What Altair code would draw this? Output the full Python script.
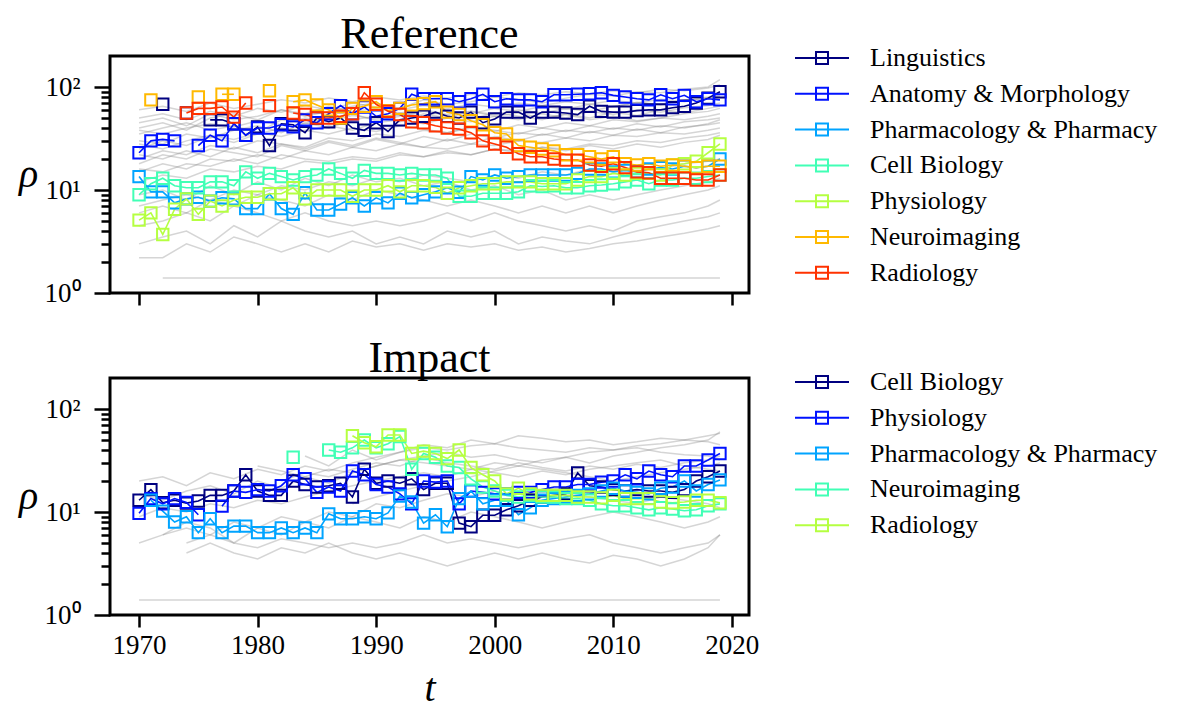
import altair as alt
import pandas as pd

N = None
YEARS = list(range(1970, 2020))
GREY_YEARS = list(range(1970, 2019, 2)) + [2019]

# ---------------- Reference panel ----------------
REF_NAMES = ["Linguistics", "Anatomy & Morphology", "Pharmacology & Pharmacy",
             "Cell Biology", "Physiology", "Neuroimaging", "Radiology"]
REF_COLORS = ["#000080", "#0012ff", "#00a4ff", "#41ffb5", "#b5ff41", "#ffb900", "#ff3200"]

REF_LINGUISTICS = [N, N, 68, N, 56, N, 48, 48, 44, 34, 41, 27, 44, 43, 36, 50, 46, 50, 40, 38,
                   45, 37, 48, 50, 52, 57, 52, 50, 57, 45, 49, 57, 57, 50, 57, 57, 56, 54, 65, 58,
                   57, 57, 59, 60, 60, 63, 65, 70, 78, 90]
REF_ANATOMY = [23, 30, 31, 30, N, 27, 34, 30, 44, 34, 40, 40, 43, 41, 48, 45, 55, 66, 55, 64,
               52, 55, 62, 85, 77, 77, 77, 72, 77, 85, 72, 77, 75, 75, 72, 84, 84, 85, 86, 88,
               83, 80, 77, 75, 84, 77, 83, 72, 77, 75]
REF_PHARMA = [13.5, 9.6, 9.6, 7.5, 8.2, 8.5, 7.8, 8.4, 8.2, 6.6, 6.6, 9.2, 6.6, 5.8, 9.4, 6.4,
              6.4, 7.3, 8.4, 7.0, 8.4, 7.5, 9.3, 8.4, 9.0, 9.6, 10.5, 9.5, 13.5, 12.5, 14, 13,
              13.5, 14, 14, 14, 14, 14.5, 16, 16, 15, 15.5, 15, 16, 16.5, 16, 17, 16.5, 17, 20]
REF_CELL = [9, 11.5, 13, 11, 10.5, 10.5, 12, 12, 11, 15, 13, 14.5, 13.5, 12.5, 13.5, 14, 16,
            14.5, 13, 15.5, 14.5, 14.5, 14, 14.5, 14, 14, 13, 8.7, 8.7, 9.3, 9.3, 9.3, 9.6, 11,
            10.8, 11, 10.5, 10.5, 11, 11.2, 11.5, 12, 12.5, 11.5, 12.5, 12.5, 13, 13, 13.5, 14]
REF_PHYSIO = [5.1, 6, 3.7, 6.5, 8.2, 5.8, 7.8, 7, 8, 8.5, 8.5, 9.2, 9.2, 10.5, 8.2, 10, 10, 10,
              8.7, 10, 10, 11, 9.6, 11, 11, 10.6, 9.3, 10.5, 11, 11.5, 11.5, 12, 12, 12, 11.5,
              11.5, 11.5, 12.5, 13.5, 13.5, 14.5, 14, 14.5, 14.5, 14, 17.5, 18, 19, 23, 28]
REF_NEURO = [N, 75, N, N, N, 80, N, 85, 85, N, N, 92, N, 72, 75, 67, 60, 50, 62, 65, 72, 59,
             62, 67, 69, 72, 57, 54, 47, 43, 36, 35, 27, 26, 25, 24, 22, 22, 21, 20, 21, 18,
             17.5, 18, 17, 17.5, 17, 16.5, 17, 17]
REF_RADIO = [N, N, N, N, 56, 62, 62, 64, 51, 70, N, 66, N, 56, 54, 50, 50, 52, 55, 88, 68, 58,
             54, 46, 45, 42, 40, 39, 36, 30, 28, 26, 22.5, 21, 21, 20, 19.5, 19.5, 17.5, 17, 18,
             16.5, 15, 14.7, 13, 13, 13, 12.5, 12.5, 14]
REF_SERIES = [REF_LINGUISTICS, REF_ANATOMY, REF_PHARMA, REF_CELL, REF_PHYSIO, REF_NEURO, REF_RADIO]

REF_GREY = [
    [40, 45, 38, 50, 55, 48, 60, 52, 58, 65, 70, 62, 75, 68, 72, 80, 76, 70, 78, 85, 82, 90, 88, 95, 100, 118],
    [30, 28, 35, 32, 38, 42, 36, 45, 40, 48, 52, 46, 55, 50, 58, 54, 60, 56, 62, 58, 65, 70, 68, 75, 80, 85],
    [25, 30, 27, 33, 29, 35, 40, 37, 42, 38, 45, 48, 44, 50, 46, 52, 48, 55, 50, 58, 54, 60, 57, 63, 66, 70],
    [35, 40, 45, 38, 42, 36, 48, 44, 50, 55, 47, 52, 58, 53, 49, 56, 52, 48, 55, 50, 57, 53, 60, 56, 62, 65],
    [20, 24, 22, 27, 25, 30, 28, 26, 32, 30, 35, 33, 38, 36, 40, 37, 43, 40, 45, 42, 48, 46, 50, 48, 52, 55],
    [45, 50, 42, 55, 48, 52, 60, 55, 65, 58, 62, 56, 60, 54, 58, 52, 56, 50, 54, 48, 52, 47, 50, 55, 58, 62],
    [18, 22, 20, 25, 23, 21, 27, 24, 29, 26, 31, 28, 33, 30, 35, 32, 36, 34, 38, 36, 40, 38, 42, 40, 44, 48],
    [28, 25, 30, 34, 31, 36, 33, 38, 35, 40, 37, 42, 39, 36, 41, 38, 35, 40, 37, 42, 39, 44, 41, 46, 48, 50],
    [22, 20, 24, 21, 26, 23, 28, 25, 30, 27, 32, 29, 26, 31, 28, 33, 30, 35, 32, 37, 34, 39, 36, 41, 43, 45],
    [38, 35, 40, 44, 41, 47, 43, 50, 46, 53, 49, 56, 52, 59, 55, 62, 58, 65, 61, 68, 64, 71, 67, 74, 78, 82],
    [15, 18, 16, 20, 19, 22, 20, 24, 22, 26, 24, 28, 26, 25, 28, 27, 30, 29, 32, 30, 34, 33, 36, 35, 38, 40],
    [50, 55, 48, 58, 52, 62, 57, 66, 60, 70, 64, 60, 66, 62, 68, 64, 70, 66, 72, 68, 74, 70, 76, 72, 78, 80],
    [12, 14, 13, 16, 15, 17, 16, 19, 18, 20, 19, 22, 21, 23, 22, 25, 24, 26, 25, 28, 27, 30, 29, 32, 34, 36],
    [9, 10, 8, 11, 9, 12, 10, 13, 11, 14, 12, 13, 11, 12, 10, 11, 9, 10, 8, 9, 8, 9, 10, 11, 12, 13],
    [6, 7, 6, 8, 7, 9, 8, 7, 9, 8, 10, 9, 8, 7, 8, 7, 6, 7, 6, 7, 6, 7, 8, 9, 10, 11],
    [4.5, 5, 6, 5, 7, 6, 5, 6, 5, 4.5, 5, 4.5, 5, 6, 5, 6, 5, 4.5, 4, 4.5, 4, 5, 5.5, 6, 7, 8],
    [3, 3.5, 4, 3, 4.5, 3.5, 5, 4, 3.5, 4, 3, 3.5, 3, 4, 3.5, 4, 3, 3.5, 3.2, 3, 3.5, 4, 4.5, 5, 5.5, 6],
    [2.2, 2.2, 3, 2.5, 3.5, 3, 2.5, 3, 2.5, 3.2, 2.8, 3, 2.6, 3, 2.8, 3, 2.6, 2.8, 2.5, 2.7, 3, 3.2, 3.5, 3.8, 4.2, 4.5],
    [N, 1.4, 1.4, 1.4, 1.4, 1.4, 1.4, 1.4, 1.4, 1.4, 1.4, 1.4, 1.4, 1.4, 1.4, 1.4, 1.4, 1.4, 1.4, 1.4, 1.4, 1.4, 1.4, 1.4, 1.4, 1.4],
    [7, 8, 9, 8, 10, 9, 11, 10, 12, 11, 13, 12, 14, 13, 12, 14, 13, 15, 14, 16, 15, 17, 16, 18, 19, 20],
    [16, 15, 18, 17, 20, 18, 22, 20, 19, 21, 20, 23, 21, 24, 22, 25, 23, 26, 24, 27, 25, 28, 26, 29, 31, 34],
    [60, 65, 58, 70, 62, 68, 75, 70, 78, 72, 80, 75, 82, 78, 85, 80, 88, 84, 90, 86, 92, 88, 95, 92, 98, 105],
]

# ---------------- Impact panel ----------------
IMP_NAMES = ["Cell Biology", "Physiology", "Pharmacology & Pharmacy", "Neuroimaging", "Radiology"]
IMP_COLORS = ["#000080", "#0012ff", "#00a4ff", "#41ffb5", "#b5ff41"]

IMP_CELL = [13, 16.5, 12.3, 13, 12.2, 12.8, 14.5, 14.5, 16, 23, 16, 14.5, 14.5, 20, 18.5, 17.5,
            18, 19, 14, 26, 19, 20, 19, 21, 16.5, 19, 19, 7.8, 7.2, 9.3, 9.3, 10.5, 11.5, 13, 14,
            14.5, 15, 24, 18, 17.5, 16.5, 16, 16.5, 16, 16, 15.5, 16.5, 20, 22, 25]
IMP_PHYSIO = [9.7, 13.5, 12, 13.5, 12.4, 9.4, N, 11.4, 16, 15.5, 16.5, 16, 18, 23, 21, 15.5,
              17.5, 16, 25, 23, 18.5, 17.5, 15, 12, 20, 19.5, 20, 12, 16, 15.5, 15, 15, 15.5,
              15.5, 16.5, 17.5, 17.5, 18.5, 18.5, 19.5, 20, 23, 21, 25, 23, 22, 28, 28, 32, 37]
IMP_PHARMA = [N, 13, 10.2, 8, 9, 6.3, 8.6, 6.3, 7.3, 7.3, 6.3, 6.3, 7, 6.3, 7, 6.3, 9.6, 8.6,
              8.6, 9, 8.6, 9.8, 14.3, 12.5, 7.8, 9.4, 7.2, 13.5, 16, 12, 13, 13, 9.4, 11, 13,
              13.5, 14, 14.5, 15, 16, 17, 16, 15.5, 15, 17, 17.5, 20, 16, 18.5, 20.5]
IMP_NEURO = [N, N, N, N, N, N, N, N, N, N, N, N, N, 34, N, N, 40, 38, 42, 50, 42, 46, 54, 26,
             37, 34, 28, 27, 21, 17.5, 16, 14.5, 14, 14.5, 14, 14, 13.5, 13.5, 13, 12, 11.5,
             11.5, 11, 10.5, 11, 10.7, 10.3, 10.5, 11.5, 12]
IMP_RADIO = [N, N, N, N, N, N, N, N, N, N, N, N, N, N, N, N, N, N, 55, 47, 43, 56, 56, 37,
             39, 37, 33, 40, 27, 23, 20, 15, 17, 15, 14.5, 14.5, 14.5, 14, 14, 13.7, 14.5, 13.5,
             13.5, 13.5, 12.5, 12.3, 12.5, 13, 13, 12.3]
IMP_SERIES = [IMP_CELL, IMP_PHYSIO, IMP_PHARMA, IMP_NEURO, IMP_RADIO]

IMP_GREY = [
    [N, N, N, N, N, N, N, 35, 28, 40, 32, 38, 45, 42, 50, 46, 55, 52, 48, 50, 45, 48, 52, 50, 55, 58],
    [20, 22, 18, 24, 21, 26, 23, 28, 25, 30, 34, 38, 42, 40, 44, 46, 42, 40, 38, 42, 40, 44, 46, 50, 48, 45],
    [15, 13, 16, 18, 15, 20, 17, 22, 19, 24, 28, 32, 30, 28, 26, 30, 28, 32, 34, 30, 35, 38, 42, 45, 50, 60],
    [N, N, N, N, N, N, 20, 24, 22, 26, 30, 28, 34, 30, 28, 26, 30, 27, 25, 28, 26, 29, 27, 30, 32, 35],
    [9, 11, 10, 12, 11, 13, 12, 14, 16, 18, 20, 22, 24, 22, 26, 24, 22, 25, 23, 26, 28, 30, 32, 28, 26, 25],
    [5, 6, 7, 6, 8, 7, 9, 8, 10, 9, 12, 11, 13, 15, 14, 16, 14, 13, 15, 14, 13, 12, 14, 13, 12, 11],
    [N, 6, 8, 7, 5, 7, 6, 8, 7, 9, 8, 7, 9, 8, 10, 9, 8, 7, 8, 9, 10, 9, 8, 7, 8, 9],
    [N, N, 5, 6, 5, 4.5, 5.5, 5, 4.5, 5, 4.5, 5, 6, 5, 5.5, 5, 4.5, 5, 5.5, 6, 5, 4.5, 4, 4.5, 5, 6],
    [N, N, 4, 5, 4, 3.5, 4.5, 4, 5, 4, 3.5, 4, 3.5, 3, 3.5, 4, 3.5, 4, 3.5, 3.2, 3.8, 3.5, 3, 3.5, 4.5, 6],
    [N, N, N, N, N, N, N, N, N, 12, 14, 16, 18, 20, 22, 25, 28, 26, 24, 22, 20, 22, 24, 26, 28, 30],
    [1.4, 1.4, 1.4, 1.4, 1.4, 1.4, 1.4, 1.4, 1.4, 1.4, 1.4, 1.4, 1.4, 1.4, 1.4, 1.4, 1.4, 1.4, 1.4, 1.4, 1.4, 1.4, 1.4, 1.4, 1.4, 1.4],
    [N, N, N, N, N, 28, 25, 22, 26, 24, 28, 32, 35, 38, 34, 36, 32, 30, 34, 38, 40, 42, 38, 36, 35, 32],
]

X_TICKS = [1970, 1980, 1990, 2000, 2010, 2020]
Y_TICKS = [1, 2, 3, 4, 5, 6, 7, 8, 9, 10, 20, 30, 40, 50, 60, 70, 80, 90, 100]

FONT = "Liberation Serif"


def runs(name, xs, vals, key, order):
    rows = []
    seg = 0
    prev = False
    for x, v in zip(xs, vals):
        if v is None:
            prev = False
            continue
        if not prev:
            seg += 1
        prev = True
        rows.append({"year": x, "value": v, "series": name,
                     "seg": f"{key}-{seg}", "order": order})
    return rows


def panel(title, names, colors, series, greys, legend_y, bottom):
    grey_rows = []
    for i, g in enumerate(greys):
        grey_rows += runs(f"g{i}", GREY_YEARS, g, f"g{i}", i)
    hi_rows = []
    for i, (n, s) in enumerate(zip(names, series)):
        hi_rows += runs(n, YEARS, s, f"h{i}", i)
    grey_df = pd.DataFrame(grey_rows)
    hi_df = pd.DataFrame(hi_rows)

    xaxis = alt.Axis(values=X_TICKS, format="d", labels=bottom,
                     title="t" if bottom else None,
                     titleFontStyle="italic", titleFontSize=40, titleFont=FONT,
                     titleFontWeight="normal", titlePadding=10,
                     tickSize=12, tickWidth=2.5, tickColor="black", domain=False,
                     grid=False, labelFont=FONT, labelFontSize=27, labelColor="black",
                     labelPadding=5, labelAngle=0)
    yaxis = alt.Axis(values=Y_TICKS, grid=False, domain=False,
                     tickSize={"condition": {"test": "datum.value === 1 || datum.value === 10 || datum.value === 100", "value": 16}, "value": 9},
                     tickWidth=2.5, tickColor="black",
                     labelExpr="datum.value === 1 ? '10\u2070' : datum.value === 10 ? '10\u00b9' : datum.value === 100 ? '10\u00b2' : ''",
                     labelOverlap=False, labelFont=FONT, labelFontSize=27, labelColor="black",
                     labelPadding=14, title="\u03c1", titleFont=FONT, titleFontSize=40,
                     titleFontStyle="italic", titleFontWeight="normal", titleAngle=0,
                     titleBaseline="middle", titlePadding=16)
    xenc = alt.X("year:Q", scale=alt.Scale(domain=[1967.55, 2021.45], nice=False, zero=False), axis=xaxis)
    yenc = alt.Y("value:Q", scale=alt.Scale(type="log", domain=[1, 200], nice=False), axis=yaxis)

    grey = alt.Chart(grey_df).mark_line(color="#808080", opacity=0.33, strokeWidth=1.5).encode(
        x=xenc, y=yenc, detail="seg:N")

    legend = alt.Legend(orient="none", legendX=699, legendY=legend_y, title=None,
                        symbolType="M-2.7,0L2.7,0M-0.6,-0.6L0.6,-0.6L0.6,0.6L-0.6,0.6Z",
                        symbolSize=400, symbolStrokeWidth=2, symbolFillColor="transparent",
                        labelFont=FONT, labelFontSize=26, labelColor="black",
                        labelOffset=35, labelLimit=500, rowPadding=9.8, padding=0)
    hi = alt.Chart(hi_df).mark_line(
        strokeWidth=1.6,
        point=alt.OverlayMarkDef(shape="square", filled=False, size=130, strokeWidth=2),
    ).encode(
        x=xenc, y=yenc,
        color=alt.Color("series:N", scale=alt.Scale(domain=names, range=colors), legend=legend),
        detail="seg:N",
        order="order:Q",
    )
    return alt.layer(grey, hi).properties(
        width=639, height=237,
        title=alt.TitleParams(title, font=FONT, fontSize=44, fontWeight="normal",
                              anchor="middle", color="black", offset=-12),
    )


top = panel("Reference", REF_NAMES, REF_COLORS, REF_SERIES, REF_GREY, -11, False)
bot = panel("Impact", IMP_NAMES, IMP_COLORS, IMP_SERIES, IMP_GREY, -9, True)

chart = alt.vconcat(top, bot, spacing=27).resolve_scale(color="independent").configure(
    background="white", padding={"left": 8, "top": 3, "right": 5, "bottom": 0}
).configure_view(stroke="black", strokeWidth=3)

chart.save("out.html", embed_options={"renderer": "svg", "actions": False})
